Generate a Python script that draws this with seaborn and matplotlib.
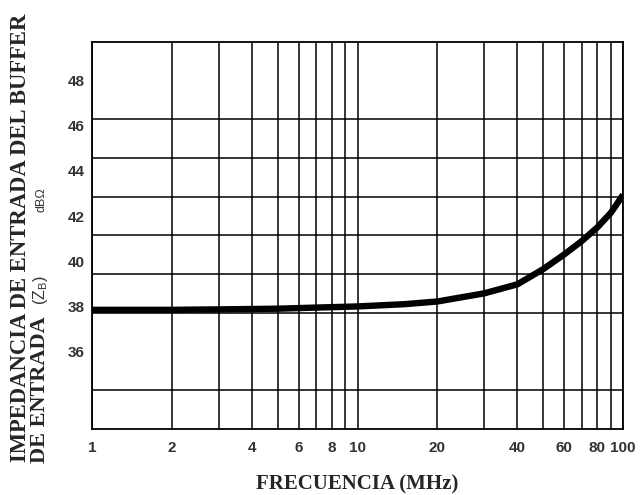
import numpy as np
import pandas as pd
import matplotlib
matplotlib.use("Agg")
import matplotlib.pyplot as plt
import seaborn as sns

# Data
freq_mhz = [1, 2, 3, 5, 7, 10, 15, 20, 30, 40, 50, 60, 70, 80, 90, 95, 100]
zb_db = [37.85, 37.85, 37.87, 37.9, 37.95, 38.0, 38.1, 38.22, 38.58, 38.98,
         39.65, 40.3, 40.9, 41.5, 42.15, 42.55, 42.95]

x_tick_vals = [1, 2, 4, 6, 8, 10, 20, 40, 60, 80, 100]
x_grid_vals = [1, 2, 3, 4, 5, 6, 7, 8, 9, 10, 20, 30, 40, 50, 60, 70, 80, 90, 100]
y_tick_vals = [36, 38, 40, 42, 44, 46, 48]

df = pd.DataFrame({"f": freq_mhz, "z": zb_db})

sns.set_style("white")
fig = plt.figure(figsize=(6.42, 4.95), dpi=100)
ax = fig.add_axes([92 / 642, 1 - 429 / 495, (623 - 92) / 642, (429 - 42) / 495])

sns.lineplot(data=df, x="f", y="z", ax=ax, color="black", linewidth=4.6,
             solid_capstyle="butt", solid_joinstyle="round")

ax.set_xscale("log")
ax.set_xlim(1, 100)
step = 12 / 7
ax.set_ylim(36 - 2 * step, 48 + step)

# x: gridlines at every decade subdivision, labels on selected ones
ax.set_xticks(x_grid_vals)
ax.set_xticklabels([str(v) if v in x_tick_vals else "" for v in x_grid_vals])
ax.xaxis.set_minor_locator(matplotlib.ticker.NullLocator())
ax.grid(True, axis="x", which="major", color="black", linewidth=1.1)

# y: labels (major) and gridlines (minor), as in the original figure
ax.set_yticks(y_tick_vals)
ax.set_yticklabels([str(v) for v in y_tick_vals])
ax.set_yticks([48 - k * step for k in range(9)], minor=True)
ax.yaxis.grid(False, which="major")
ax.yaxis.grid(True, which="minor", color="black", linewidth=1.1)

ax.tick_params(axis="both", which="both", length=0)
ax.tick_params(axis="x", pad=9)
ax.tick_params(axis="y", pad=5)
for lab in ax.get_xticklabels() + ax.get_yticklabels():
    lab.set_fontfamily("Liberation Sans")
    lab.set_fontweight("bold")
    lab.set_fontsize(11)
    lab.set_color("#333333")

for s in ax.spines.values():
    s.set_visible(True)
    s.set_color("black")
    s.set_linewidth(1.3)

ax.set_xlabel("")
ax.set_ylabel("")

serif = "Liberation Serif"
fig.text(357 / 642, 1 - 484 / 495, "FRECUENCIA (MHz)", ha="center", va="center",
         fontfamily=serif, fontweight="bold", fontsize=15)
fig.text(21 / 642, 1 - 238 / 495, "IMPEDANCIA DE ENTRADA DEL BUFFER", ha="center",
         va="center", rotation=90, fontfamily=serif, fontweight="bold", fontsize=16.3)
fig.text(40 / 642, 1 - 463 / 495, "DE ENTRADA", ha="center", va="bottom",
         rotation=90, fontfamily=serif, fontweight="bold", fontsize=16)
fig.text(40 / 642, 1 - 290 / 495, r"(Z$_\mathregular{B}$)", ha="center", va="center",
         rotation=90, fontfamily="Liberation Sans", fontsize=11.5, color="#333333")
fig.text(42 / 642, 1 - 200 / 495, "dBΩ", ha="center", va="center",
         rotation=90, fontfamily="Liberation Sans", fontsize=9, color="#333333")

fig.savefig("out.png", dpi=100)
